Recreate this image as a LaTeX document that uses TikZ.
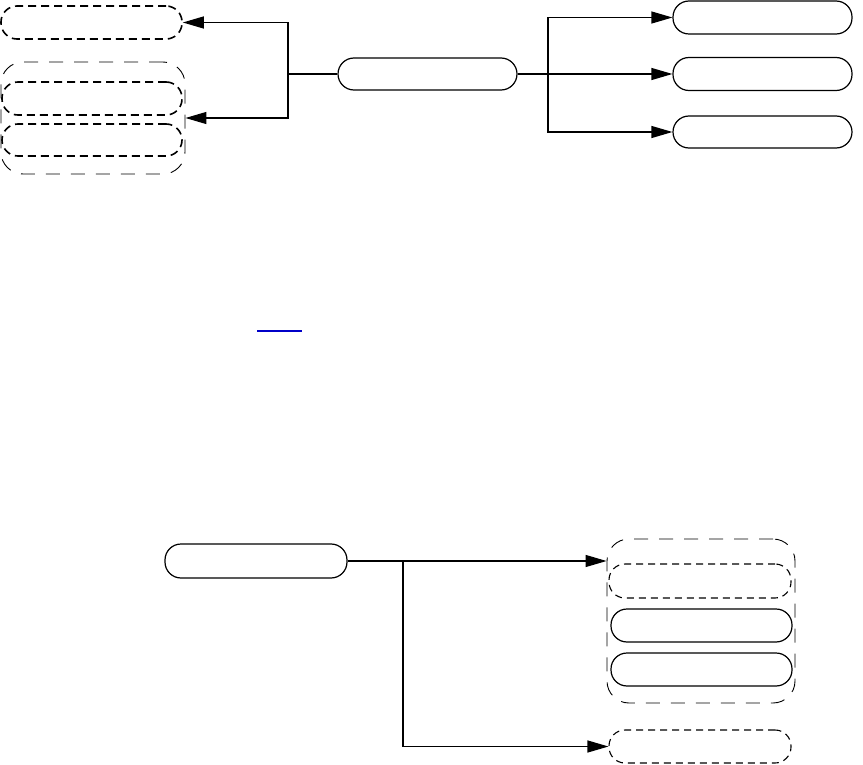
\documentclass[tikz,border=0pt]{standalone}
\usetikzlibrary{arrows.meta}
\definecolor{lineblue}{RGB}{0,0,200}
\begin{document}
\begin{tikzpicture}[x=1pt,y=-1pt,
  pill/.style={draw=black, line width=1.2pt, rounded corners=16pt, minimum width=180pt, minimum height=33pt, inner sep=0pt},
  dpill/.style={pill, dash pattern=on 8pt off 5pt, line width=1.6pt},
  tpill/.style={pill, dash pattern=on 7pt off 5pt, line width=1.1pt},
  grp/.style={draw=black, line width=0.9pt, rounded corners=22pt, dash pattern=on 14pt off 11pt, inner sep=0pt},
  conn/.style={line width=1.2pt},
  arr/.style={conn, -{Triangle[length=21pt,width=12pt]}}]
\useasboundingbox (0,0) rectangle (863,765);
% top left
\node[dpill, minimum width=181pt] (L1) at (91.5,22.5) {};
\node[grp, minimum width=184pt, minimum height=112pt] (G1) at (93,118) {};
\node[dpill] (L2) at (92,98.5) {};
\node[dpill, minimum height=32pt] (L3) at (92,140) {};
% centre
\node[pill, minimum width=179pt, minimum height=32pt] (C) at (427.5,74) {};
% right
\node[pill, minimum width=179pt] (R1) at (762.5,17.5) {};
\node[pill, minimum width=179pt] (R2) at (762.5,74) {};
\node[pill, minimum width=179pt, minimum height=32pt] (R3) at (762.5,132) {};
\coordinate (j1) at (288,74);
\coordinate (j2) at (548,74);
\draw[conn] (C.west) -- (j1);
\draw[arr] (j1) |- (L1.east);
\draw[arr] (j1) |- (G1.east);
\draw[arr] (C.east) -- (R2.west);
\draw[arr] (j2) |- (R1.west);
\draw[arr] (j2) |- (R3.west);
% blue stroke
\coordinate (b1) at (257,331);
\coordinate (b2) at (302,331);
\draw[lineblue, line width=1.2pt] (b1) -- (b2);
% bottom
\node[pill, minimum width=182pt, minimum height=34pt] (B) at (256,561) {};
\node[grp, minimum width=188pt, minimum height=164pt] (G2) at (701,621) {};
\node[tpill, minimum width=182pt, minimum height=34pt] (D1) at (700,581) {};
\node[pill, minimum width=181pt] (S1) at (701.5,625.5) {};
\node[pill, minimum width=181pt] (S2) at (701.5,669.5) {};
\node[tpill, minimum width=182pt] (D2) at (700,746.5) {};
\coordinate (j3) at (403,561);
\draw[conn] (B.east) -- (j3);
\draw[arr] (j3) -- (G2.west |- j3);
\draw[arr] (j3) |- (D2.west);
\end{tikzpicture}
\end{document}
